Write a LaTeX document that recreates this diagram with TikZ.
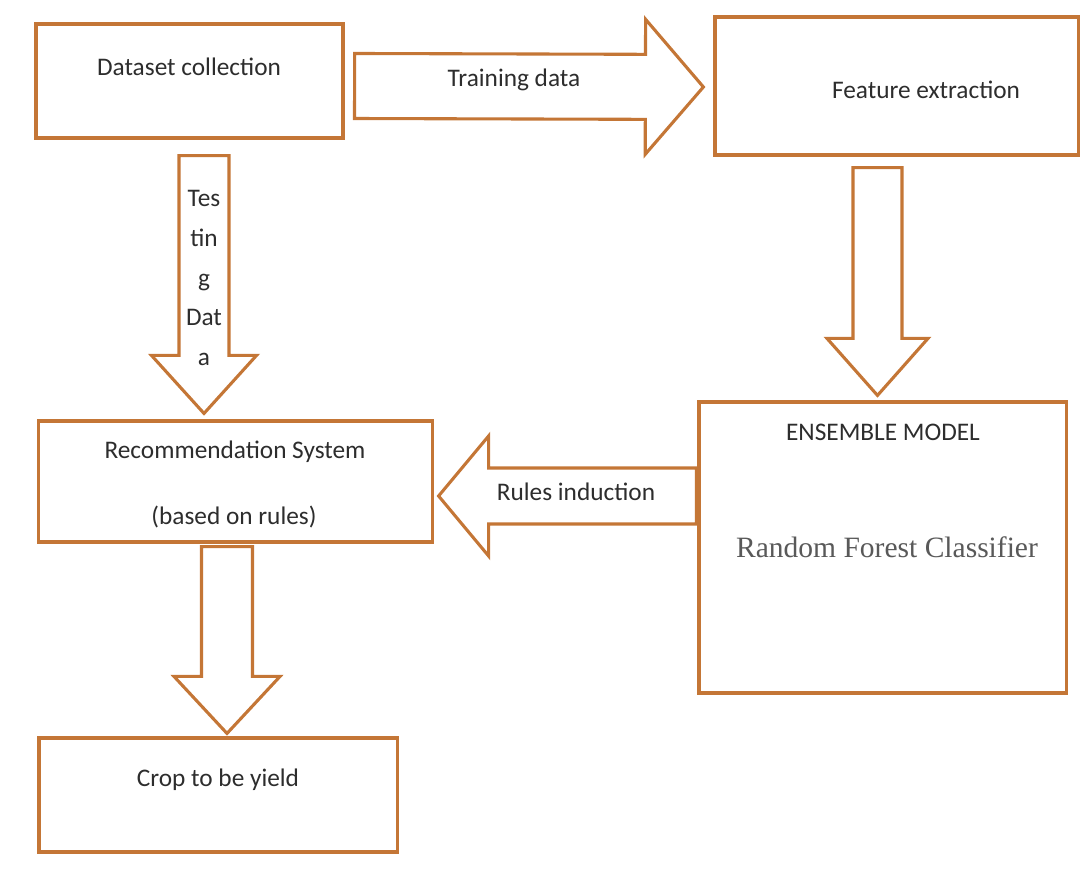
\documentclass[tikz,border=0pt]{standalone}
\usepackage{fontspec}
\setmainfont{Carlito}
\newfontfamily\classfont{Liberation Serif}
\usetikzlibrary{calc}

\definecolor{boxorange}{RGB}{196,118,54}
\definecolor{txtgray}{RGB}{45,45,45}

\tikzset{
    stagebox/.style={draw=boxorange, line width=2.2pt, fill=white, inner sep=0pt},
    blockline/.style={draw=boxorange, line width=2.2pt, fill=white, line join=miter},
    lbl/.style={text=txtgray, font=\fontsize{18}{22}\selectfont, inner sep=1pt}
}

% block arrow: start, tip, shaft half width, head half width, head length
\newcommand{\blockarrow}[5]{
    \coordinate (ba-h) at ($(#2)!#5!(#1)$);
    \draw[blockline] ($(#1)!#3!90:(#2)$) -- ($(ba-h)!#3!-90:(#1)$)
      -- ($(ba-h)!#4!-90:(#1)$) -- (#2) -- ($(ba-h)!#4!90:(#1)$)
      -- ($(ba-h)!#3!90:(#1)$) -- ($(#1)!#3!-90:(#2)$) -- cycle;
}

\begin{document}
\begin{tikzpicture}[x=0.025cm, y=-0.025cm]
    \useasboundingbox (0,0) rectangle (1088,879);

    % boxes
    \node[stagebox, minimum width=7.675cm, minimum height=2.85cm] (dataset) at (189.5,81) {};
    \node[stagebox, minimum width=9.075cm, minimum height=3.45cm] (feature) at (896.5,86) {};
    \node[stagebox, minimum width=9.825cm, minimum height=3.025cm] (recsys) at (235.5,481.5) {};
    \node[stagebox, minimum width=9.175cm, minimum height=7.275cm] (ensemble) at (882.5,547.5) {};
    \node[stagebox, minimum width=8.95cm, minimum height=2.85cm] (crop) at (218,795) {};

    % block arrows
    \coordinate (train-s) at ($(dataset.east)+(10,5)$);
    \coordinate (train-e) at ($(feature.west)+(-10,1)$);
    \blockarrow{train-s}{train-e}{0.8125cm}{1.6875cm}{1.45cm}

    \coordinate (test-s) at ($(dataset.south)+(14.5,16)$);
    \coordinate (test-e) at ($(recsys.north)+(-31.5,-6)$);
    \blockarrow{test-s}{test-e}{0.625cm}{1.3125cm}{1.45cm}

    \coordinate (feat-s) at ($(feature.south)+(-19,11)$);
    \coordinate (feat-e) at ($(ensemble.north)+(-5,-5)$);
    \blockarrow{feat-s}{feat-e}{0.6125cm}{1.2625cm}{1.425cm}

    \coordinate (rules-s) at ($(ensemble.west)+(-1,-51.5)$);
    \coordinate (rules-e) at ($(recsys.east)+(5,14.5)$);
    \blockarrow{rules-s}{rules-e}{0.7cm}{1.5cm}{1.25cm}

    \coordinate (rec-s) at ($(recsys.south)+(-8.5,3)$);
    \coordinate (rec-e) at ($(crop.north)+(9,-3)$);
    \blockarrow{rec-s}{rec-e}{0.6375cm}{1.325cm}{1.425cm}

    % texts
    \node[lbl] (dataset-t) at (189,67) {Dataset collection};
    \node[lbl] (train-t) at (514,80) {Training data};
    \node[lbl] (feature-t) at (926,90) {Feature extraction};
    \node[lbl, align=center, font=\fontsize{18}{28.4}\selectfont] (test-t) at (204,278)
      {Tes\\tin\\g\\Dat\\a};
    \node[lbl] (recsys-t) at (235,452) {Recommendation System};
    \node[lbl] (recsys-t2) at (234,517) {(based on rules)};
    \node[lbl] (rules-t) at (576,492) {Rules induction};
    \node[lbl] (ensemble-t) at (883,432) {ENSEMBLE MODEL};
    \node[lbl, text=black!65, font=\classfont\fontsize{21}{25}\selectfont] (rfc-t) at (887,547)
      {Random Forest Classifier};
    \node[lbl] (crop-t) at (218,780) {Crop to be yield};
\end{tikzpicture}
\end{document}
